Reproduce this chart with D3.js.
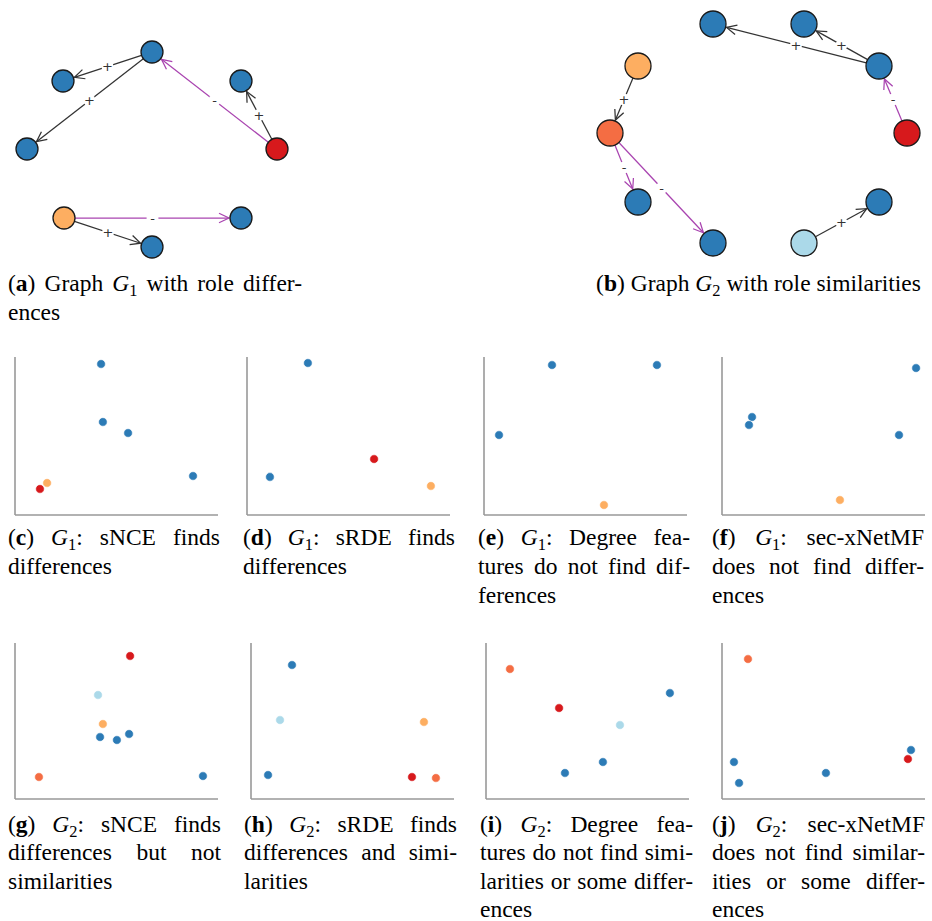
<!DOCTYPE html>
<html><head><meta charset="utf-8">
<script src="https://cdn.jsdelivr.net/npm/d3@7"></script>
<style>body{margin:0;background:#fff}svg{display:block}</style>
</head><body>
<svg id="fig" width="932" height="921"></svg>
<script>
// ---------- colours for roles ----------
const roleColors = {blue:"#2c7bb6", red:"#d7191c", orange:"#fdae61", orangered:"#f46d43", light:"#abd9e9"};
const edgeDark = "#333333", edgePurple = "#a944b0";

// ---------- Graph G1 (layout coordinates) ----------
const g1Nodes = [
  {x:125, y:0,   role:"blue"},
  {x:36,  y:29,  role:"blue"},
  {x:0,   y:97,  role:"blue"},
  {x:214, y:29,  role:"blue"},
  {x:250, y:97,  role:"red"},
  {x:37,  y:166, role:"orange"},
  {x:214, y:166, role:"blue"},
  {x:125, y:195, role:"blue"}
];
const g1Edges = [
  {s:0,t:1,sign:"+"},{s:0,t:2,sign:"+"},{s:4,t:0,sign:"-"},
  {s:4,t:3,sign:"+"},{s:5,t:6,sign:"-"},{s:5,t:7,sign:"+"}
];

// ---------- Graph G2 (layout coordinates) ----------
const g2Nodes = [
  {x:103, y:0,   role:"blue"},
  {x:194, y:0,   role:"blue"},
  {x:269, y:42,  role:"blue"},
  {x:297, y:109, role:"red"},
  {x:28,  y:42,  role:"orange"},
  {x:0,   y:109, role:"orangered"},
  {x:28,  y:178, role:"blue"},
  {x:103, y:219, role:"blue"},
  {x:194, y:219, role:"light"},
  {x:269, y:178, role:"blue"}
];
const g2Edges = [
  {s:2,t:0,sign:"+"},{s:2,t:1,sign:"+"},{s:3,t:2,sign:"-"},
  {s:4,t:5,sign:"+"},{s:5,t:6,sign:"-"},{s:5,t:7,sign:"-"},{s:8,t:9,sign:"+"}
];

// ---------- Embedding scatter values [x, y, role] ----------
const g1_sNCE = [[4.24,9.56,"blue"],[4.33,5.89,"blue"],[5.57,5.19,"blue"],[8.77,2.47,"blue"],[1.58,2.03,"orange"],[1.23,1.65,"red"]];
const g1_sRDE = [[3.0,9.62,"blue"],[1.13,2.41,"blue"],[6.26,3.54,"red"],[9.06,1.84,"orange"]];
const g1_degree = [[3.35,9.49,"blue"],[8.52,9.49,"blue"],[0.74,5.06,"blue"],[5.91,0.63,"orange"]];
const g1_xnetmf = [[9.56,9.30,"blue"],[1.48,6.20,"blue"],[1.33,5.70,"blue"],[8.72,5.06,"blue"],[5.81,0.95,"orange"]];
const g2_sNCE = [[5.67,9.17,"red"],[4.09,6.67,"light"],[4.33,4.81,"orange"],[4.19,3.97,"blue"],[5.02,3.78,"blue"],[5.62,4.17,"blue"],[1.18,1.41,"orangered"],[9.26,1.47,"blue"]];
const g2_sRDE = [[2.02,8.59,"blue"],[1.43,5.06,"light"],[0.84,1.54,"blue"],[8.52,4.94,"orange"],[7.93,1.41,"red"],[9.11,1.35,"orangered"]];
const g2_degree = [[1.18,8.33,"orangered"],[3.60,5.83,"red"],[6.60,4.74,"light"],[9.06,6.79,"blue"],[5.76,2.37,"blue"],[3.89,1.67,"blue"]];
const g2_xnetmf = [[1.28,8.97,"orangered"],[0.59,2.37,"blue"],[0.84,1.03,"blue"],[5.12,1.67,"blue"],[9.31,3.14,"blue"],[9.16,2.56,"red"]];

// ---------- Captions ([x]=bold, {x}=italic, _x=subscript) ----------
const capA = ["([a]) Graph {G}_1 with role differ-", "ences"];
const capB = ["([b]) Graph {G}_2 with role similarities"];
const capRow1 = [
  ["([c]) {G}_1: sNCE finds", "differences"],
  ["([d]) {G}_1: sRDE finds", "differences"],
  ["([e]) {G}_1: Degree fea-", "tures do not find dif-", "ferences"],
  ["([f]) {G}_1: sec-xNetMF", "does not find differ-", "ences"]
];
const capRow2 = [
  ["([g]) {G}_2: sNCE finds", "differences but not", "similarities"],
  ["([h]) {G}_2: sRDE finds", "differences and simi-", "larities"],
  ["([i]) {G}_2: Degree fea-", "tures do not find simi-", "larities or some differ-", "ences"],
  ["([j]) {G}_2: sec-xNetMF", "does not find similar-", "ities or some differ-", "ences"]
];

// =====================================================
const svg = d3.select("#fig");
const FS = 23.5;
const FONT = "'Liberation Serif','Times New Roman',serif";

function drawGraph(nodes, edges, sx, sy, r) {
  const g = svg.append("g");
  const P = n => [sx(n.x), sy(n.y)];
  edges.forEach(e => {
    const [x1,y1] = P(nodes[e.s]), [x2,y2] = P(nodes[e.t]);
    const dx = x2-x1, dy = y2-y1, L = Math.hypot(dx,dy), ux = dx/L, uy = dy/L;
    const px = -uy, py = ux;
    const ax = x1+ux*r, ay = y1+uy*r, bx = x2-ux*(r+1), by = y2-uy*(r+1);
    const col = e.sign === "+" ? edgeDark : edgePurple;
    g.append("line").attr("x1",ax).attr("y1",ay).attr("x2",bx).attr("y2",by)
      .attr("stroke",col).attr("stroke-width",1.25);
    const hl = 10, hw = 4.8;
    g.append("path")
      .attr("d",`M${bx-ux*hl+px*hw},${by-uy*hl+py*hw}L${bx},${by}L${bx-ux*hl-px*hw},${by-uy*hl-py*hw}`)
      .attr("fill","none").attr("stroke",col).attr("stroke-width",1.25);
    const mx = (x1+x2)/2, my = (y1+y2)/2;
    g.append("circle").attr("cx",mx).attr("cy",my).attr("r",6).attr("fill","#fff");
    g.append("text").attr("x",mx).attr("y",my).attr("dy","0.36em").attr("text-anchor","middle")
      .attr("font-family","DejaVu Sans, sans-serif").attr("font-size",13).attr("fill","#333")
      .text(e.sign);
  });
  g.selectAll("circle.node").data(nodes).join("circle").attr("class","node")
    .attr("cx",d=>sx(d.x)).attr("cy",d=>sy(d.y)).attr("r",r)
    .attr("fill",d=>roleColors[d.role]).attr("stroke","#1a1a1a").attr("stroke-width",1.3);
}

drawGraph(g1Nodes, g1Edges,
  d3.scaleLinear().domain([0,250]).range([27,277]),
  d3.scaleLinear().domain([0,195]).range([52,247]), 11);
drawGraph(g2Nodes, g2Edges,
  d3.scaleLinear().domain([0,297]).range([610,907]),
  d3.scaleLinear().domain([0,219]).range([24,243]), 13);

function drawScatter(data, left, top, w, h) {
  const g = svg.append("g");
  const x = d3.scaleLinear().domain([0,10]).range([left, left+w]);
  const y = d3.scaleLinear().domain([0,10]).range([top+h, top]);
  g.append("line").attr("x1",left).attr("x2",left).attr("y1",top).attr("y2",top+h)
    .attr("stroke","#999").attr("stroke-width",1.6);
  g.append("line").attr("x1",left).attr("x2",left+w).attr("y1",top+h).attr("y2",top+h)
    .attr("stroke","#999").attr("stroke-width",1.6);
  g.selectAll("circle").data(data).join("circle")
    .attr("cx",d=>x(d[0])).attr("cy",d=>y(d[1])).attr("r",4.3)
    .attr("fill",d=>roleColors[d[2]]).attr("stroke","#fff").attr("stroke-width",0.6);
}
const row1Left = [15,247,484,722], row2Left = [15,251,486,722];
[g1_sNCE,g1_sRDE,g1_degree,g1_xnetmf].forEach((d,i)=>drawScatter(d,row1Left[i],357,203,158));
[g2_sNCE,g2_sRDE,g2_degree,g2_xnetmf].forEach((d,i)=>drawScatter(d,row2Left[i],643,203,156));

// ---------- caption typesetting ----------
function parseWord(w){
  const runs=[]; let i=0;
  while(i<w.length){
    const c=w[i];
    if(c==='['){const j=w.indexOf(']',i); runs.push({t:w.slice(i+1,j),b:1}); i=j+1;}
    else if(c==='{'){const j=w.indexOf('}',i); runs.push({t:w.slice(i+1,j),it:1}); i=j+1;}
    else if(c==='_'){runs.push({t:w[i+1],sub:1}); i+=2;}
    else {let j=i; while(j<w.length && !'[{_'.includes(w[j])) j++; runs.push({t:w.slice(i,j)}); i=j;}
  }
  return runs;
}
function drawCaption(x, y, width, lines, align, lh){
  const g = svg.append("g").attr("font-family",FONT).attr("font-size",FS).attr("fill","#000");
  const space = FS*0.25;
  lines.forEach((line, li) => {
    const words = line.split(" ");
    const els = words.map(w => {
      const t = g.append("text").attr("y", y + li*lh);
      let shifted = false;
      parseWord(w).forEach(r => {
        const ts = t.append("tspan").text(r.t);
        if (r.b) ts.attr("font-weight","bold");
        if (r.it) ts.attr("font-style","italic");
        if (r.sub) { ts.attr("font-size",FS*0.7).attr("dy",FS*0.2); shifted = true; }
        else if (shifted) { ts.attr("dy",-FS*0.2); shifted = false; }
      });
      return t;
    });
    const widths = els.map(e => e.node().getComputedTextLength());
    const total = d3.sum(widths);
    const last = li === lines.length-1;
    let gap = space, cx = x;
    if (align === "justify" && !last && words.length > 1) gap = (width-total)/(words.length-1);
    if (align === "center") cx = x + (width - (total + space*(words.length-1)))/2;
    els.forEach((e,i) => { e.attr("x", cx); cx += widths[i] + gap; });
  });
}
drawCaption(8, 291, 294, capA, "justify", 29);
drawCaption(592, 291, 333, capB, "center", 29);
const row1CapX = [8,243,478,712], row2CapX = [8,244,480,712];
capRow1.forEach((c,i)=>drawCaption(row1CapX[i], 545, 212, c, "justify", 29));
capRow2.forEach((c,i)=>drawCaption(row2CapX[i], 832, 213, c, "justify", 28.3));
</script>
</body></html>
